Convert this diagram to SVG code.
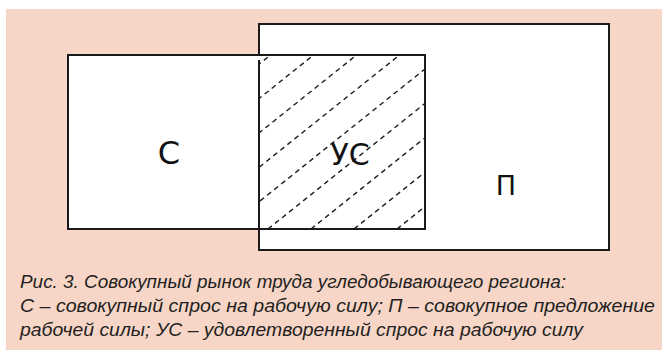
<svg xmlns="http://www.w3.org/2000/svg" width="662" height="359" viewBox="0 0 662 359">
<defs>
<style>
.box{fill:#ffffff;stroke:#1a1a1a;stroke-width:2}
.edge{fill:none;stroke:#1a1a1a;stroke-width:2}
.hatch{stroke:#1a1a1a;stroke-width:1.4;stroke-dasharray:5 4;fill:none}
.lbl{font-family:"DejaVu Sans","Liberation Sans",sans-serif;fill:#111;text-anchor:middle}
.cap{font-family:"Liberation Sans Narrow","Liberation Sans",Arial,sans-serif;font-style:italic;font-size:19px;fill:#231f20}
</style>
<clipPath id="ov"><rect x="260" y="56" width="164" height="172"/></clipPath>
</defs>
<rect x="6" y="9" width="656" height="341" fill="#f7d6c8"/>
<g id="node-P">
<rect class="box" x="259" y="24" width="350" height="226"/>
<text class="lbl" x="506" y="195" font-size="27">П</text>
</g>
<g id="node-C">
<rect class="box" x="68" y="55" width="357" height="174"/>
<text class="lbl" x="169" y="164" font-size="32">С</text>
</g>
<g id="node-US">
<g class="hatch" clip-path="url(#ov)">
<line x1="53" y1="229" x2="303" y2="29"/>
<line x1="96" y1="229" x2="346" y2="29"/>
<line x1="139" y1="229" x2="389" y2="29"/>
<line x1="182" y1="229" x2="432" y2="29"/>
<line x1="225" y1="229" x2="475" y2="29"/>
<line x1="268" y1="229" x2="518" y2="29"/>
<line x1="311" y1="229" x2="561" y2="29"/>
<line x1="354" y1="229" x2="604" y2="29"/>
<line x1="397" y1="229" x2="647" y2="29"/>
</g>
<line class="edge" x1="259" y1="60" x2="259" y2="250"/>
<text class="lbl" x="350" y="165" font-size="30">УС</text>
</g>
<g id="caption">
<text class="cap" x="20" y="288" textLength="546" lengthAdjust="spacingAndGlyphs">Рис. 3. Совокупный рынок труда угледобывающего региона:</text>
<text class="cap" x="20" y="312" textLength="635" lengthAdjust="spacingAndGlyphs">С – совокупный спрос на рабочую силу; П – совокупное предложение</text>
<text class="cap" x="20" y="336" textLength="563" lengthAdjust="spacingAndGlyphs">рабочей силы; УС – удовлетворенный спрос на рабочую силу</text>
</g>
</svg>
